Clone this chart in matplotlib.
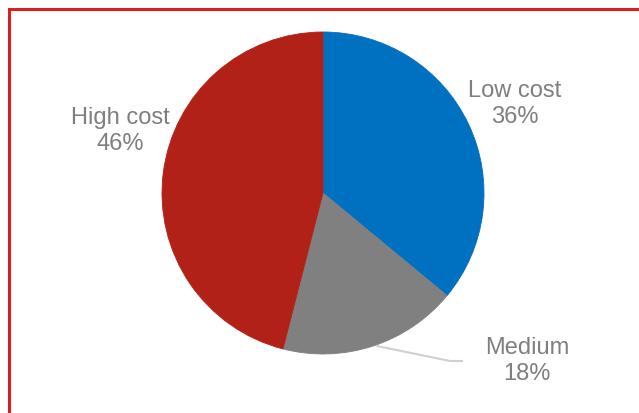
import matplotlib
matplotlib.use("Agg")
import matplotlib.pyplot as plt
from matplotlib.lines import Line2D

labels = ["Low cost", "Medium", "High cost"]
shares = [36, 18, 46]
colors = ["#0070c0", "#808080", "#b22117"]

W, H = 639, 414
fig = plt.figure(figsize=(W/100, H/100), dpi=100)
ax = fig.add_axes([0, 0, 1, 1])

cx, cy, r = 323, H-194, 161
wedges, _ = ax.pie(shares, colors=colors, startangle=90, counterclock=False,
                   center=(cx, cy), radius=r)
for w, c in zip(wedges, colors):
    w.set_edgecolor(c)
    w.set_linewidth(0.6)
ax.set_xlim(0, W)
ax.set_ylim(0, H)
ax.set_aspect('equal')
ax.axis('off')

font = ['Liberation Sans', 'DejaVu Sans']
txt = '#7f7f7f'
# label positions (pixels from top-left)
pos = {"Low cost": (515, 104), "Medium": (527, 361), "High cost": (120, 131)}
for lab, s in zip(labels, shares):
    x, y = pos[lab]
    ax.text(x, H-y, lab + "\n" + str(s) + "%", ha='center', va='center',
            fontsize=17, color=txt, family=font, linespacing=1.2)

# leader line for Medium
ax.plot([377, 450, 462], [H-347, H-362, H-362], color='#d0d0d0', lw=1.5)

# red frame (top and left)
fig.add_artist(Line2D([8.5/W, 1], [1-10/H, 1-10/H], color='#d42027', lw=2.2))
fig.add_artist(Line2D([8.5/W, 8.5/W], [0, 1-10/H], color='#d42027', lw=2.2))

fig.savefig("out.png", dpi=100, facecolor='white')
